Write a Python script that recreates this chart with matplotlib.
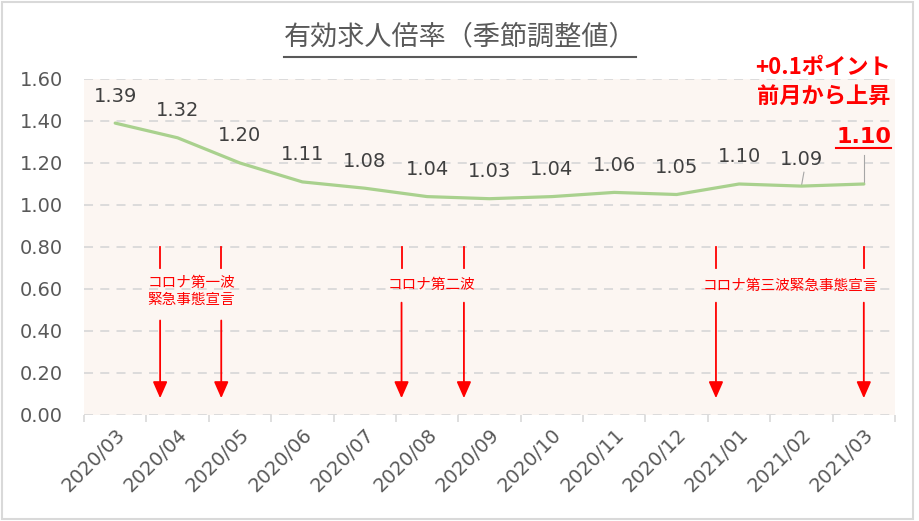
import matplotlib
matplotlib.use("Agg")
import matplotlib.pyplot as plt
from matplotlib.lines import Line2D
from matplotlib.patches import Rectangle

plt.rcParams['font.family'] = ['DejaVu Sans', 'Noto Sans CJK JP']
CJK = ['Noto Sans CJK JP', 'DejaVu Sans']

months = ["2020/03", "2020/04", "2020/05", "2020/06", "2020/07", "2020/08", "2020/09",
          "2020/10", "2020/11", "2020/12", "2021/01", "2021/02", "2021/03"]
ratio = [1.39, 1.32, 1.20, 1.11, 1.08, 1.04, 1.03, 1.04, 1.06, 1.05, 1.10, 1.09, 1.10]
yticks = [0.0, 0.2, 0.4, 0.6, 0.8, 1.0, 1.2, 1.4, 1.6]

title = "有効求人倍率（季節調整値）"
note_line1 = "+0.1ポイント"
note_line2 = "前月から上昇"
events = [
    ("コロナ第一波\n緊急事態宣言", [0.72, 1.70], 1.22, 0.587, 0.45),
    ("コロナ第二波", [4.59, 5.59], 5.07, 0.62, 0.535),
    ("コロナ第三波緊急事態宣言", [9.63, 12.0], 10.82, 0.616, 0.535),
]

W, H = 919, 521
fig = plt.figure(figsize=(W / 100, H / 100), dpi=100)
fig.patch.set_facecolor("white")
ax = fig.add_axes([84 / W, 1 - 415 / H, (895 - 84) / W, (415 - 79) / H])
ax.set_facecolor("#FCF6F2")

x = list(range(len(months)))
ax.plot(x, ratio, color="#A9D18E", lw=2.3, solid_capstyle="round", zorder=3)

ax.set_xlim(-0.5, len(months) - 0.5)
ax.set_ylim(0, 1.6)
ax.set_yticks(yticks)
ax.set_yticklabels([f"{v:.2f}" for v in yticks], color="#595959", fontsize=14)
ax.set_xticks(x)
ax.set_xticklabels(months, rotation=45, ha="right", rotation_mode="anchor",
                   color="#595959", fontsize=14)
ax.tick_params(axis="both", which="major", length=0)
ax.tick_params(axis="y", pad=15)
ax.tick_params(axis="x", pad=7)
ax.set_xticks([i - 0.5 for i in range(len(months) + 1)], minor=True)
ax.tick_params(axis="x", which="minor", length=5, color="#D9D9D9", width=1.2)
for s in ax.spines.values():
    s.set_visible(False)
ax.yaxis.grid(True, color="#D9D9D9", lw=1.3, linestyle=(0, (5, 4)), zorder=1)
ax.set_axisbelow(True)

# data labels
for i, v in enumerate(ratio[:-1]):
    ax.annotate(f"{v:.2f}", (i, v), xytext=(0, 19.5), textcoords="offset points",
                ha="center", va="center", color="#404040", fontsize=14, zorder=4)
# leader line for 2021/02
ax.plot([11, 11.04], [ratio[11], 1.156], color="#A6A6A6", lw=0.8, zorder=2)
# last value label
ax.plot([12, 12], [ratio[12], 1.24], color="#A6A6A6", lw=0.8, zorder=2)
last = ax.text(12, 1.325, f"{ratio[-1]:.2f}", ha="center", va="center", color="#FF0000",
               fontsize=16, fontweight="bold", zorder=4)

# event arrows
for label, xs, tx, ty, gap_low in events:
    for xv in xs:
        ax.plot([xv, xv], [0.80, 0.70], color="#FF0000", lw=1.3, zorder=3)
        ax.annotate("", xy=(xv, 0.08), xytext=(xv, gap_low),
                    arrowprops=dict(arrowstyle="-|>,head_length=0.5,head_width=0.22",
                                    mutation_scale=20, color="#FF0000", lw=1.3,
                                    shrinkA=0, shrinkB=0), zorder=3)
    ax.text(tx, ty, label, ha="center", va="center", color="#FF0000", fontsize=10.5,
            linespacing=1.3, zorder=4, family=CJK)

# title
t = fig.text(460 / W, 1 - 37 / H, title, ha="center", va="center", color="#595959",
             fontsize=19.5, family=CJK)
n1 = fig.text(891 / W, 1 - 67 / H, note_line1, ha="right", va="center", color="#FF0000",
              fontsize=16, fontweight="bold", family=CJK)
n2 = fig.text(891 / W, 1 - 96 / H, note_line2, ha="right", va="center", color="#FF0000",
              fontsize=16, fontweight="bold", family=CJK)

fig.canvas.draw()
r = fig.canvas.get_renderer()
for txt, uy in [(t, 57), (last, 148)]:
    bb = txt.get_window_extent(r)
    fig.add_artist(Line2D([bb.x0 / W, bb.x1 / W], [1 - uy / H, 1 - uy / H],
                          color=txt.get_color(), lw=1.5, transform=fig.transFigure))

fig.add_artist(Rectangle((2 / W, 2 / H), 911 / W, 517 / H, transform=fig.transFigure,
                         fill=False, edgecolor="#D9D9D9", lw=1.5))

fig.savefig("out.png", dpi=100)
